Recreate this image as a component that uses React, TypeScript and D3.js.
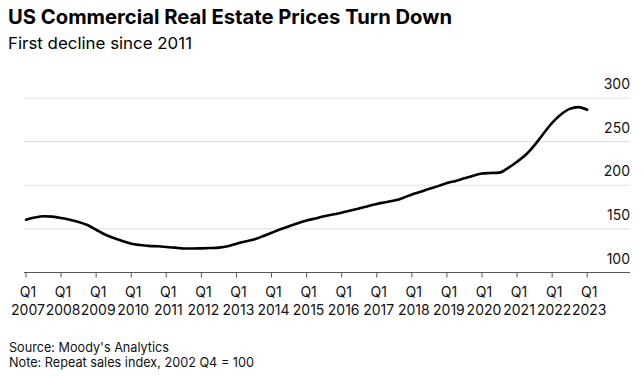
import React from "react";
import * as d3 from "d3";

const title = "US Commercial Real Estate Prices Turn Down";
const subtitle = "First decline since 2011";
const sourceLines = ["Source: Moody's Analytics", "Note: Repeat sales index, 2002 Q4 = 100"];

const years = [2007, 2008, 2009, 2010, 2011, 2012, 2013, 2014, 2015, 2016, 2017, 2018, 2019, 2020, 2021, 2022, 2023];
const yTicks = [100, 150, 200, 250, 300];

// Quarterly index values, Q1 2007 .. Q1 2023
const values = [
  160.5, 163, 164.5, 164,
  162.5, 160.5, 158, 154.5,
  149, 143.5, 139.5, 136,
  133, 131.5, 130.5, 130,
  129.3, 128.5, 127.5, 127.5,
  127.7, 128, 128.5, 130,
  133, 135.5, 137.8, 141.5,
  145.5, 149.5, 153, 156.5,
  159.5, 162, 164.5, 166.5,
  168.5, 171, 173.5, 176,
  178.6, 180.5, 182.5, 185.5,
  189.5, 192.5, 196, 199,
  202.5, 205, 208, 211,
  213.5, 214, 214.5, 220,
  227, 235, 246, 259,
  271.5, 281, 287.5, 289.5,
  286.5,
];

export default function App() {
  const W = 644, H = 376;
  const x = d3.scaleLinear().domain([0, values.length - 1]).range([26, 587.2]);
  const y = d3.scaleLinear().domain([100, 300]).range([272.5, 98]);
  const line = d3
    .line<number>()
    .x((_, i) => x(i))
    .y((d) => y(d))
    .curve(d3.curveMonotoneX);
  const font = "Inter, 'Liberation Sans', Arial, sans-serif";
  return (
    <svg width={W} height={H} style={{ position: "absolute", left: 0, top: 0, fontFamily: font }}>
      <rect width={W} height={H} fill="#fff" />
      <text x={8} y={24} fontSize={20} fontWeight={700} fill="#000" textLength={444} lengthAdjust="spacingAndGlyphs">{title}</text>
      <text x={8} y={49} fontSize={16.5} fill="#000" textLength={184} lengthAdjust="spacingAndGlyphs">{subtitle}</text>
      {yTicks.map((t) => (
        <g key={t}>
          {t !== 100 && (
            <line x1={24} x2={630} y1={y(t)} y2={y(t)} stroke="#e2e2e2" strokeWidth={1.2} />
          )}
          <text x={630} y={y(t) - 9} fontSize={14} textAnchor="end" fill="#111">{t}</text>
        </g>
      ))}
      <line x1={24} x2={630} y1={y(100)} y2={y(100)} stroke="#555" strokeWidth={1} />
      {years.map((yr, k) => {
        const xi = x(k * 4);
        return (
          <g key={yr}>
            <line x1={xi} x2={xi} y1={y(100)} y2={y(100) + 5} stroke="#555" strokeWidth={1} />
            <text x={xi + 2} y={297} fontSize={14} textAnchor="middle" fill="#111">Q1</text>
            <text x={xi + 2} y={315} fontSize={14} textAnchor="middle" fill="#111">{yr}</text>
          </g>
        );
      })}
      <path d={line(values) || ""} fill="none" stroke="#000" strokeWidth={2.6} strokeLinejoin="round" strokeLinecap="round" />
      {sourceLines.map((s, i) => (
        <text key={i} x={9} y={352 + i * 15} fontSize={13} fill="#111" textLength={i === 0 ? 160 : 245} lengthAdjust="spacingAndGlyphs">{s}</text>
      ))}
    </svg>
  );
}
